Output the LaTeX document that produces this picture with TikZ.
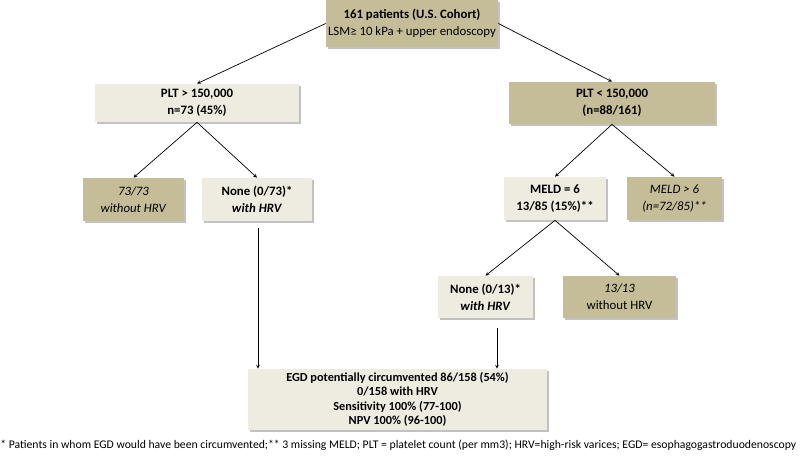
\documentclass[tikz,border=0pt]{standalone}
\usepackage{fontspec}
\setmainfont{Carlito}
\usetikzlibrary{shadows}
\definecolor{tandark}{HTML}{C4BD97}
\definecolor{tanlight}{HTML}{EEECE1}

\begin{document}
\begin{tikzpicture}[x=1pt,y=-1pt,>=stealth]
        \tikzstyle{every node}=[align=center, inner sep=0pt, font=\fontsize{12.8}{17}\selectfont]
        \tikzstyle{dark}=[fill=tandark, drop shadow={shadow xshift=1.5pt, shadow yshift=-1.5pt, fill=black!40, opacity=.6}]
        \tikzstyle{light}=[fill=tanlight, drop shadow={shadow xshift=1.5pt, shadow yshift=-1.5pt, fill=black!40, opacity=.6}]
        \tikzstyle{every path}=[line width=0.7pt]

        \useasboundingbox (0,0) rectangle (800,455);

        \node[dark, minimum width=172pt, minimum height=47pt](top) at (412,23.5)
            {\textbf{161 patients (U.S. Cohort)}\\LSM≥ 10 kPa + upper endoscopy};

        \node[light, minimum width=204pt, minimum height=38pt](plthi) at (197,103)
            {\textbf{PLT > 150,000}\\\textbf{n=73 (45\%)}};
        \node[dark, minimum width=206pt, minimum height=42pt](pltlo) at (612,103)
            {\textbf{PLT < 150,000}\\\textbf{(n=88/161)}};

        \node[dark, minimum width=101pt, minimum height=43pt](without73) at (133.5,199.5)
            {\textit{73/73}\\\textit{without HRV}};
        \node[light, minimum width=110pt, minimum height=43pt](none73) at (257,199.5)
            {\textbf{None (0/73)*}\\\textbf{\textit{with HRV}}};

        \node[light, minimum width=102pt, minimum height=43pt](meldlo) at (555,198.5)
            {\textbf{MELD = 6}\\\textbf{13/85 (15\%)**}};
        \node[dark, minimum width=95pt, minimum height=43pt](meldhi) at (674.5,198.5)
            {\textit{MELD > 6}\\\textit{(n=72/85)**}};

        \node[light, minimum width=95pt, minimum height=42pt](none13) at (485.5,297)
            {\textbf{None (0/13)*}\\\textbf{\textit{with HRV}}};
        \node[dark, minimum width=113pt, minimum height=42pt](without13) at (619.5,297)
            {\textit{13/13}\\without HRV};

        \node[light, minimum width=299pt, minimum height=61pt, font=\fontsize{12.3}{14.5}\selectfont\bfseries](egd) at (397.5,399.5)
            {EGD potentially circumvented 86/158 (54\%)\\0/158 with HRV\\Sensitivity 100\% (77-100)\\NPV 100\% (96-100)};

        \node[anchor=west, font=\fontsize{11.7}{13}\selectfont](note) at (0,445)
            {* Patients in whom EGD would have been circumvented;** 3 missing MELD; PLT = platelet count (per mm3); HRV=high-risk varices; EGD= esophagogastroduodenoscopy};

        \draw[->] (top.west) -- (plthi.north);
        \draw[->] (top.east) -- (pltlo.north);
        \draw[->] (plthi.south) -- (without73.north);
        \draw[->] (plthi.south) -- (none73.north);
        \draw[->] (pltlo.south) -- (meldlo.north);
        \draw[->] (pltlo.south) -- (meldhi.north);
        \draw[->] (meldlo.south) -- (none13.north);
        \draw[->] (meldlo.south) -- (without13.north);

        \coordinate (from73) at (258,228);
        \coordinate (from13) at (497,328);
        \draw[->] (from73) -- (from73 |- egd.north);
        \draw[->] (from13) -- (from13 |- egd.north);
    \end{tikzpicture}
\end{document}
